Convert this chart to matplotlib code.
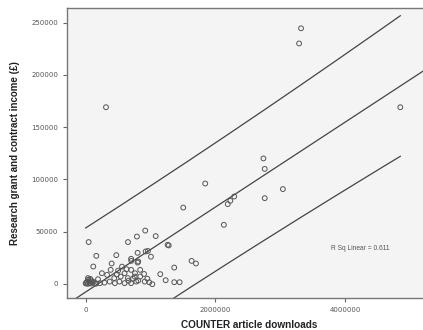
import numpy as np
import matplotlib.pyplot as plt

# COUNTER downloads (millions) and research income (thousands of pounds)
downloads_m = [0.313, 3.32, 3.29, 4.85, 2.74, 2.76, 2.19, 2.23, 2.29, 2.76, 3.04, 2.13,
               1.843, 1.504, 0.918, 0.79, 1.079, 0.652, 0.046, 1.263, 1.28, 0.80, 0.924,
               0.96, 1.006, 0.472, 0.164, 0.117, 0.703, 0.80, 1.633, 1.70, 1.365, 1.15,
               1.233, 1.365, 1.448, 1.027, 0.40, 0.70, 0.25, 0.33, 0.385, 0.50, 0.60,
               0.70, 0.54, 0.65, 0.755, 0.035, 0.06, 0.14, 0.22, 0.29, 0.37, 0.45, 0.52,
               0.60, 0.70, 0.0, 0.086, 0.19, 0.78, 0.81, 0.84, 0.76, 0.84, 0.81, 0.91,
               0.98, 0.02, 0.04, 0.10, 0.03, 0.16, 0.44, 0.56, 0.63, 0.48, 0.90, 0.95,
               0.66, 0.73, 0.01, 0.05, 0.08, 0.12, 0.07]
income_k = [169, 244.5, 230, 169, 120, 110, 76.3, 79.5, 83.6, 82, 90.7, 56.5,
            96, 73, 51, 45.3, 45.7, 40, 40, 37.4, 36.8, 29.7, 31,
            31.5, 26, 27.5, 26.8, 16.6, 22, 20.4, 22, 19.5, 15.6, 9.3,
            3.5, 1.6, 1.6, -0.3, 19.5, 24, 10.2, 8.6, 13.4, 12.7, 10.2,
            13.4, 7, 5.5, 7, 5.5, 0.7, 0.7, 0.7, 1.2, 2.2, 0.7, 2.2,
            0.7, 0.7, 0.5, 3.2, 4.5, 2.2, 21.4, 13.4, 10.2, 7, 3.2, 2.2,
            1.5, 2.0, 4.0, 1.5, 0.0, 0.2, 5.5, 16.5, 14, 9, 9.5, 5,
            3, 5, 1.0, 2.5, 0.3, 1.8, 4.8]

# value printed on the chart
r_sq_label = 0.611

x = np.array(downloads_m) * 1e6
y = np.array(income_k) * 1e3

# Linear fit and 95% individual prediction interval
n = len(x)
slope, intercept = np.polyfit(x, y, 1)
resid = y - (intercept + slope * x)
s = np.sqrt(np.sum(resid ** 2) / (n - 2))
sxx = np.sum((x - x.mean()) ** 2)
t = 1.985

xlim = (-288000, 5320000)
ylim = (-13500, 264000)

fig = plt.figure(figsize=(4.23, 3.30), dpi=100)
ax = fig.add_axes([0.1584, 0.097, 0.86, 0.879])
ax.set_facecolor('#f4f4f4')

xf = np.linspace(xlim[0], xlim[1], 200)
ax.plot(xf, intercept + slope * xf, color='#444444', lw=0.9)

xb = np.linspace(x.min(), x.max(), 200)
half = t * s * np.sqrt(1 + 1 / n + (xb - x.mean()) ** 2 / sxx)
ax.plot(xb, intercept + slope * xb + half, color='#444444', lw=0.9)
ax.plot(xb, intercept + slope * xb - half, color='#444444', lw=0.9)

ax.scatter(x, y, s=12, facecolors='none', edgecolors='#555555', linewidths=0.7, zorder=3)

ax.set_xlim(xlim)
ax.set_ylim(ylim)
ax.set_xticks([0, 2000000, 4000000])
ax.set_xticklabels(['0', '2000000', '4000000'])
ax.set_yticks(np.arange(0, 250001, 50000))
ax.set_yticklabels([str(v) for v in range(0, 250001, 50000)])
ax.tick_params(labelsize=5, colors='#666666', length=3, width=0.8, labelcolor='#555555')
for sp in ax.spines.values():
    sp.set_color('#777777')
    sp.set_linewidth(1.0)

ax.set_xlabel('COUNTER article downloads', fontsize=7.2, fontweight='bold',
              family='Liberation Sans', color='#222222', labelpad=5)
ax.set_ylabel('Research grant and contract income (£)', fontsize=7, fontweight='bold',
              family='Liberation Sans', color='#222222', labelpad=8)

ax.text(0.725, 0.165, f'R Sq Linear = {r_sq_label:.3f}', transform=ax.transAxes,
        fontsize=4.8, color='#555555', family='Liberation Sans')

fig.savefig('out.png', dpi=100)
